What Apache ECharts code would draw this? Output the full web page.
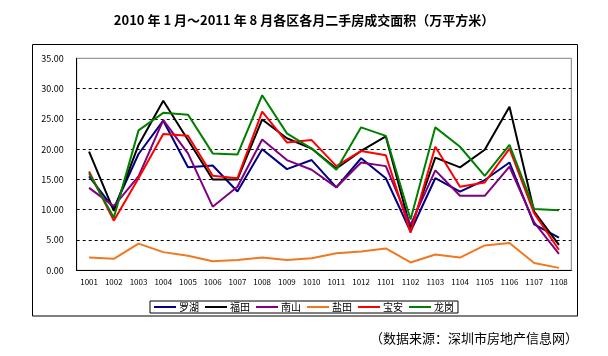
<!DOCTYPE html>
<html><head><meta charset="utf-8">
<script src="https://cdn.jsdelivr.net/npm/echarts@6/dist/echarts.min.js"></script>
<style>html,body{margin:0;padding:0;background:#fff}#c{width:608px;height:356px}</style>
</head><body><div id="c"></div>
<script>
const categories = ['1001','1002','1003','1004','1005','1006','1007','1008','1009','1010','1011','1012','1101','1102','1103','1104','1105','1106','1107','1108'];
const luohu   = [15.5,10.2,19.2,24.7,17.0,17.3,13.0,20.0,16.7,18.2,13.7,18.5,15.2,6.4,15.2,13.0,14.9,17.8,7.6,5.4];
const futian  = [19.6,9.8,20.7,28.0,21.5,15.0,15.0,24.9,21.8,20.1,16.8,19.7,22.1,6.9,18.6,17.0,19.9,27.0,9.7,4.2];
const nanshan = [13.6,10.6,15.5,24.8,19.3,10.5,13.8,21.6,18.2,16.6,13.7,17.8,17.2,7.5,16.5,12.3,12.3,17.1,7.9,2.7];
const yantian = [2.1,1.9,4.4,3.0,2.4,1.5,1.7,2.1,1.7,2.0,2.8,3.1,3.6,1.3,2.6,2.1,4.1,4.5,1.2,0.4];
const baoan   = [16.3,8.2,15.2,22.5,22.2,15.6,15.2,26.2,21.1,21.5,17.2,19.7,19.0,6.2,20.4,13.8,14.5,20.1,9.4,3.4];
const longgang= [16.0,8.7,23.1,26.0,25.7,19.3,19.1,28.9,22.6,20.1,16.6,23.6,22.2,8.4,23.6,20.4,15.6,20.7,10.1,9.9];
const seriesNames = ['罗湖','福田','南山','盐田','宝安','龙岗'];
const seriesData = [luohu, futian, nanshan, yantian, baoan, longgang];
const seriesColors = ['#000080','#000000','#800080','#F07820','#FF0000','#008000'];
const yTicks = {min: 0, max: 35, interval: 5};

const FONT = "'SimSun','Noto Sans CJK SC',sans-serif";
const chart = echarts.init(document.getElementById('c'), null, {renderer: 'canvas'});
chart.setOption({
  animation: false,
  title: {
    text: '2010 年 1 月～2011 年 8 月各区各月二手房成交面积（万平方米）',
    left: 'center', top: 9,
    textStyle: {fontFamily: FONT, fontSize: 13, fontWeight: 'bold', color: '#000'}
  },
  graphic: [
    {type: 'rect', shape: {x: 32.5, y: 44.5, width: 545, height: 271.5}, style: {fill: 'none', stroke: '#000', lineWidth: 1}, z: -1},
    {type: 'text', right: 30, top: 332, style: {text: '（数据来源：深圳市房地产信息网）', font: '13px ' + FONT, fill: '#000'}}
  ],
  legend: {
    bottom: 43, left: 'center',
    data: seriesNames,
    icon: 'rect', itemWidth: 22, itemHeight: 2, itemGap: 6,
    borderColor: '#000', borderWidth: 1, padding: [1, 4],
    textStyle: {fontFamily: FONT, fontSize: 10, color: '#000', padding: [0, 0, 0, -2]}
  },
  grid: {left: 76.7, top: 58.3, right: 36.7, bottom: 85.7, show: true, borderColor: '#808080', borderWidth: 1, backgroundColor: 'transparent'},
  xAxis: {
    type: 'category', data: categories, boundaryGap: true,
    axisLine: {lineStyle: {color: '#000', width: 1}},
    axisTick: {inside: true, length: 4, lineStyle: {color: '#000'}},
    axisLabel: {fontFamily: FONT, fontSize: 8, color: '#000', margin: 8, interval: 0}
  },
  yAxis: {
    type: 'value', min: yTicks.min, max: yTicks.max, interval: yTicks.interval,
    axisLine: {show: true, lineStyle: {color: '#000', width: 1}},
    axisTick: {show: false},
    axisLabel: {fontFamily: FONT, fontSize: 9, color: '#000', margin: 13, formatter: v => v.toFixed(2)},
    splitLine: {show: true, lineStyle: {color: ['#000','#000','#000','#000','#000','#000','#000','rgba(0,0,0,0)'], type: [3, 3], width: 1}}
  },
  series: seriesNames.map((n, i) => ({
    name: n, type: 'line', data: seriesData[i], symbol: 'none',
    lineStyle: {color: seriesColors[i], width: 2}, itemStyle: {color: seriesColors[i]}
  }))
});
</script></body></html>
